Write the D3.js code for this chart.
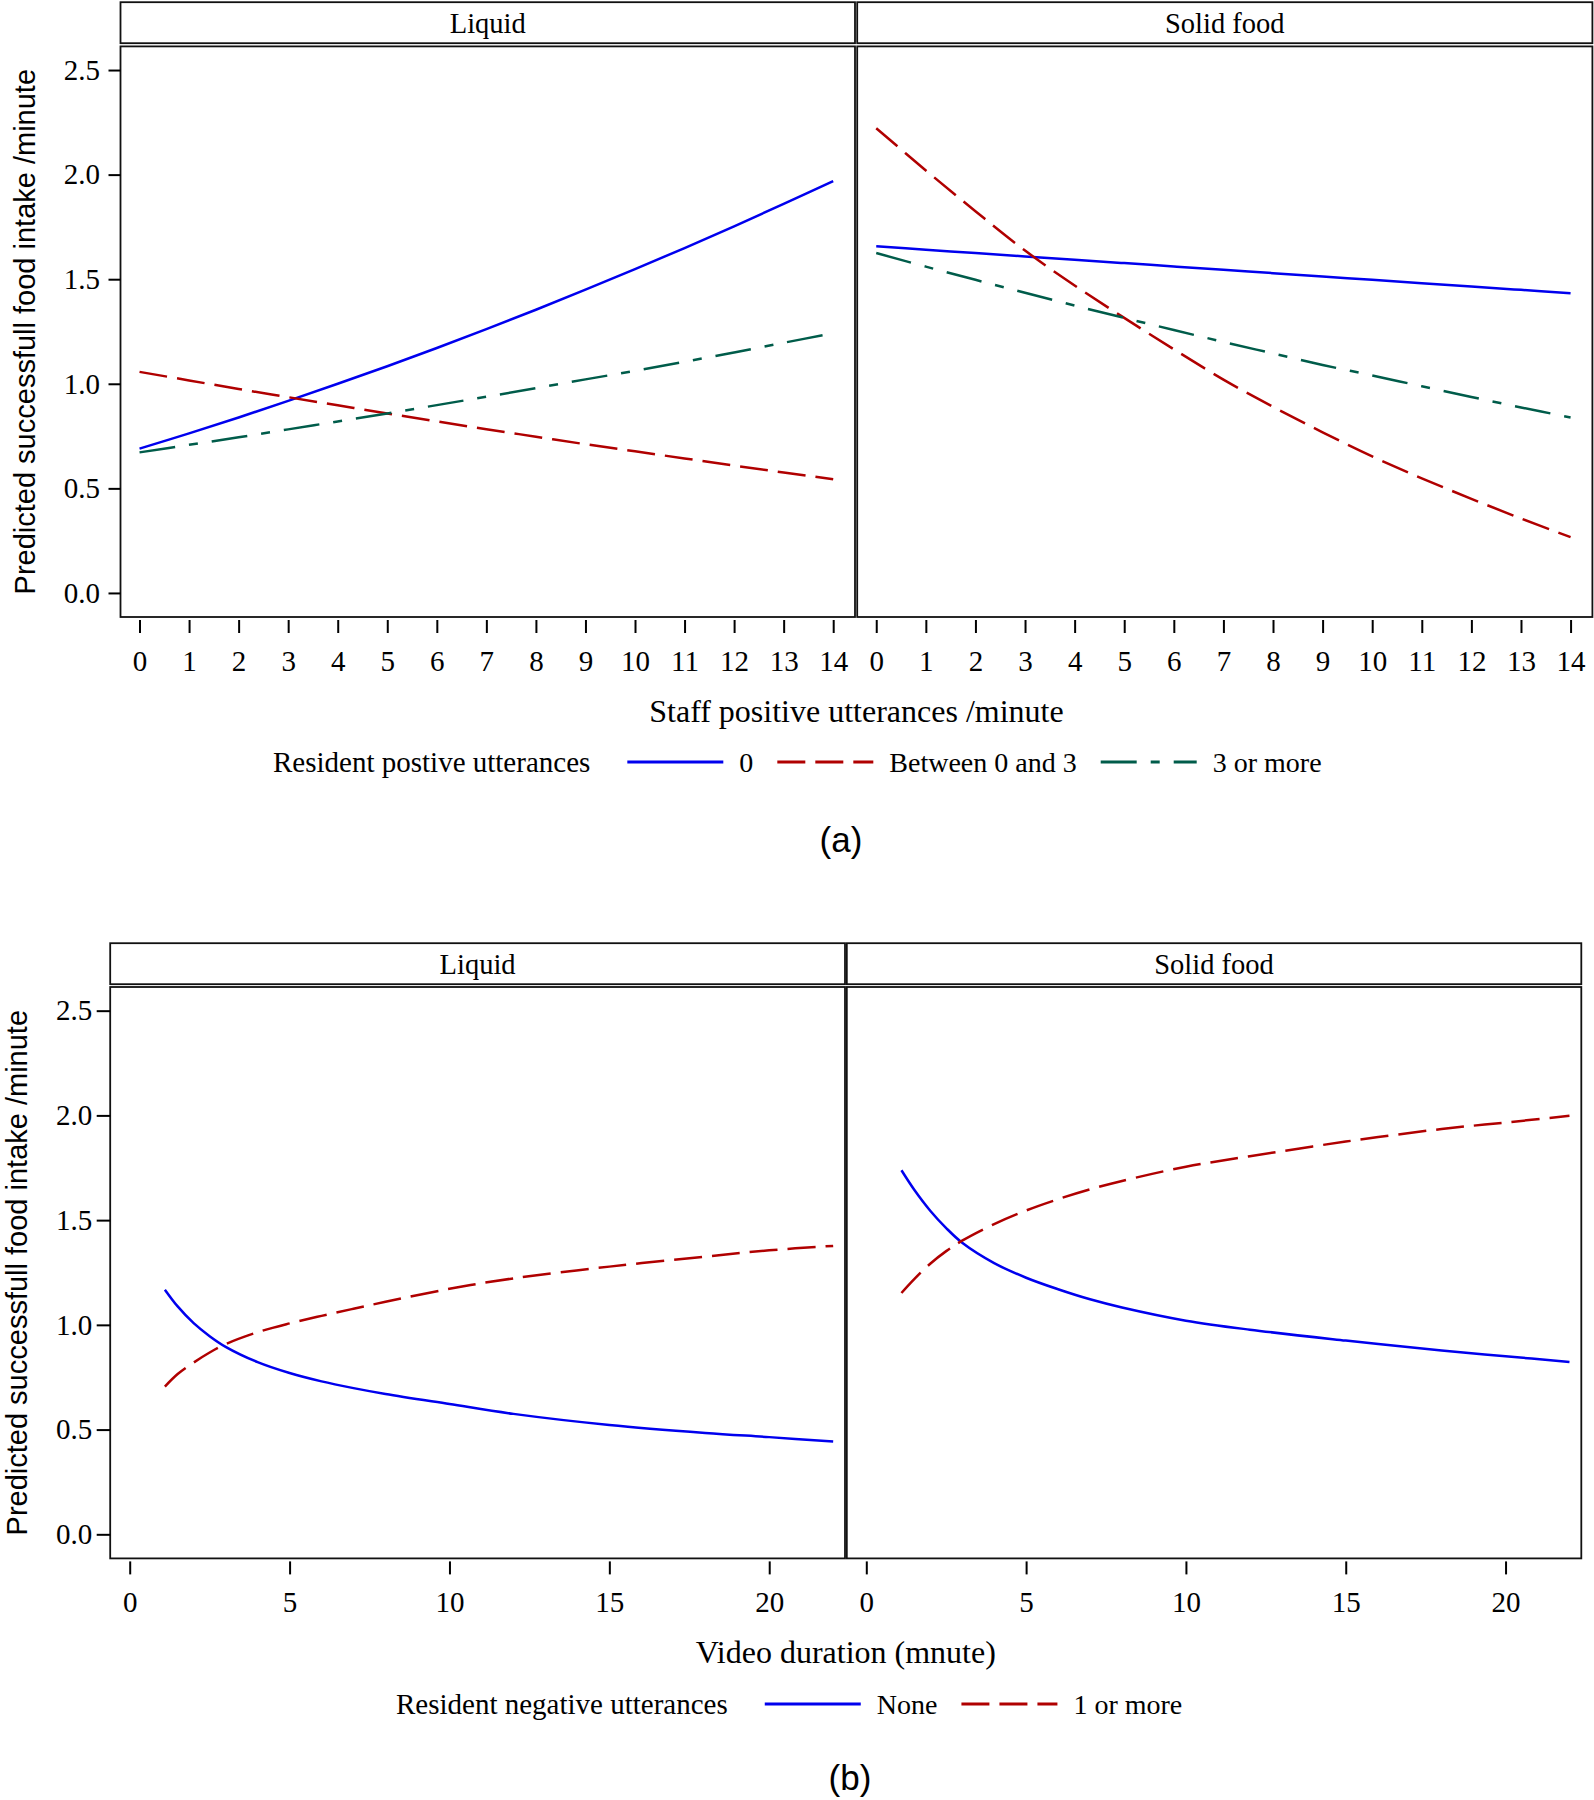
<!DOCTYPE html>
<html>
<head>
<meta charset="utf-8">
<script src="https://cdnjs.cloudflare.com/ajax/libs/d3/7.8.5/d3.min.js"></script>
<style>
  body { margin: 0; background: #fff; }
  svg text { font-family: "Liberation Serif", "Times New Roman", serif; fill: #000; }
  svg text.sans { font-family: "Liberation Sans", Arial, sans-serif; }
</style>
</head>
<body>
<div id="chart"></div>
<script>
// facet names (same for both figures)
var facets = ["Liquid", "Solid food"];

// ---- figure (a): staff positive utterances ----
var staffX = [0, 1, 2, 3, 4, 5, 6, 7, 8, 9, 10, 11, 12, 13, 14];
var posGroups = ["0", "Between 0 and 3", "3 or more"];

var liquidPos0   = [0.690, 0.763, 0.839, 0.918, 1.000, 1.084, 1.171, 1.261, 1.354, 1.450, 1.548, 1.649, 1.753, 1.860, 1.969];
var liquidPosMid = [1.057, 1.016, 0.975, 0.936, 0.897, 0.858, 0.820, 0.783, 0.747, 0.711, 0.677, 0.643, 0.609, 0.576, 0.544];
var liquidPos3   = [0.672, 0.708, 0.744, 0.782, 0.820, 0.858, 0.898, 0.938, 0.979, 1.021, 1.062, 1.105, 1.150, 1.196, 1.242];

var solidPos0    = [1.657, 1.641, 1.625, 1.609, 1.593, 1.577, 1.561, 1.545, 1.529, 1.513, 1.497, 1.481, 1.465, 1.449, 1.433];
var solidPosMid  = [2.222, 2.020, 1.825, 1.637, 1.470, 1.315, 1.165, 1.020, 0.890, 0.768, 0.653, 0.548, 0.450, 0.356, 0.267];
var solidPos3    = [1.625, 1.560, 1.497, 1.435, 1.374, 1.315, 1.257, 1.200, 1.145, 1.090, 1.040, 0.988, 0.937, 0.887, 0.839];

// ---- figure (b): video duration ----
var videoX = [1.1, 1.5, 2, 2.5, 3, 4, 5, 6, 7, 8, 10, 12, 15, 18, 20, 22];
var negGroups = ["None", "1 or more"];

var liquidNegNone = [1.168, 1.088, 1.008, 0.946, 0.895, 0.822, 0.770, 0.730, 0.698, 0.670, 0.622, 0.575, 0.522, 0.484, 0.464, 0.443];
var liquidNeg1    = [0.705, 0.765, 0.820, 0.868, 0.908, 0.965, 1.007, 1.043, 1.077, 1.110, 1.172, 1.222, 1.278, 1.326, 1.356, 1.377];
var solidNegNone  = [1.738, 1.645, 1.545, 1.462, 1.392, 1.295, 1.225, 1.170, 1.122, 1.083, 1.020, 0.977, 0.925, 0.877, 0.850, 0.823];
var solidNeg1     = [1.152, 1.218, 1.292, 1.352, 1.402, 1.481, 1.546, 1.600, 1.647, 1.687, 1.755, 1.805, 1.875, 1.935, 1.966, 1.998];

// tick values
var staffTicks = [0, 1, 2, 3, 4, 5, 6, 7, 8, 9, 10, 11, 12, 13, 14];
var videoTicks = [0, 5, 10, 15, 20];
var yTicks = [0.0, 0.5, 1.0, 1.5, 2.0, 2.5];

// line styles for the groups
var lineStyles = [
  { color: "#0000ee", dash: null },
  { color: "#b00000", dash: "28,10" },
  { color: "#005c4a", dash: "36,14,9,14" }
];

var svgWidth = 1594;
var svgHeight = 1800;
var yDomain = [-0.115, 2.613];

var svg = d3.select("#chart")
  .append("svg")
  .attr("width", svgWidth)
  .attr("height", svgHeight);

var line = d3.line()
  .x(d => d.x)
  .y(d => d.y)
  .curve(d3.curveCatmullRom.alpha(0.5));

// draws one figure: two facets side by side, shared y axis
function drawFigure(fig) {
  var g = svg.append("g");

  var yScale = d3.scaleLinear()
    .domain(yDomain)
    .range([fig.plotBottom, fig.plotTop]);

  fig.panels.forEach(function(p, i) {
    var xScale = d3.scaleLinear()
      .domain(fig.xDomain)
      .range([p[0], p[1]]);

    // strip header
    g.append("rect")
      .attr("x", p[0]).attr("y", fig.stripTop)
      .attr("width", p[1] - p[0]).attr("height", 41)
      .attr("fill", "#fff").attr("stroke", "#111").attr("stroke-width", 1.8);

    g.append("text")
      .attr("x", (p[0] + p[1]) / 2)
      .attr("y", fig.stripTop + 30.8)
      .attr("text-anchor", "middle")
      .style("font-size", "28.5px")
      .text(facets[i]);

    // plot frame
    g.append("rect")
      .attr("x", p[0]).attr("y", fig.plotTop)
      .attr("width", p[1] - p[0]).attr("height", fig.plotBottom - fig.plotTop)
      .attr("fill", "none").attr("stroke", "#111").attr("stroke-width", 1.8);

    // x axis
    var bottomAxis = d3.axisBottom(xScale)
      .tickValues(fig.xTicks)
      .tickSize(13)
      .tickPadding(17)
      .tickFormat(d3.format("d"));

    var xAxis = g.append("g")
      .attr("transform", `translate(0, ${fig.plotBottom + 3})`)
      .call(bottomAxis);
    xAxis.select(".domain").remove();
    xAxis.selectAll("line").attr("stroke-width", 2);
    xAxis.selectAll("text").style("font-size", "29px");

    // curves
    fig.series[i].forEach(function(vals, k) {
      var pts = fig.xs.map((xv, j) => ({ x: xScale(xv), y: yScale(vals[j]) }));
      g.append("path")
        .datum(pts)
        .attr("d", line)
        .attr("fill", "none")
        .attr("stroke", lineStyles[k].color)
        .attr("stroke-width", 2.5)
        .attr("stroke-dasharray", lineStyles[k].dash);
    });
  });

  // y axis on the left facet
  var leftAxis = d3.axisLeft(yScale)
    .tickValues(yTicks)
    .tickSize(fig.yTickSize)
    .tickPadding(fig.yTickPad)
    .tickFormat(d3.format(".1f"));

  var yAxis = g.append("g")
    .attr("transform", `translate(${fig.panels[0][0]}, 0)`)
    .call(leftAxis);
  yAxis.select(".domain").remove();
  yAxis.selectAll("line").attr("stroke-width", 2);
  yAxis.selectAll("text").style("font-size", "29px");

  // y axis title
  g.append("text")
    .attr("class", "sans")
    .attr("transform", `translate(${fig.yTitleX}, ${(fig.plotTop + fig.plotBottom) / 2}) rotate(-90)`)
    .attr("text-anchor", "middle")
    .style("font-size", "29px")
    .text("Predicted successfull food intake /minute");

  // x axis title
  g.append("text")
    .attr("x", (fig.panels[0][0] + fig.panels[1][1]) / 2)
    .attr("y", fig.xTitleY)
    .attr("text-anchor", "middle")
    .style("font-size", "32px")
    .text(fig.xTitle);

  // legend, laid out left to right
  var cx = fig.legendX;
  var ly = fig.legendY;
  var title = g.append("text")
    .attr("x", cx).attr("y", ly + 10)
    .style("font-size", "29px")
    .text(fig.legendTitle);
  cx += title.node().getComputedTextLength() + 37;

  fig.groups.forEach(function(name, k) {
    g.append("line")
      .attr("x1", cx).attr("x2", cx + 96)
      .attr("y1", ly).attr("y2", ly)
      .attr("stroke", lineStyles[k].color)
      .attr("stroke-width", 3)
      .attr("stroke-dasharray", lineStyles[k].dash);
    cx += 96 + 16;
    var lbl = g.append("text")
      .attr("x", cx).attr("y", ly + 10)
      .style("font-size", "28px")
      .text(name);
    cx += lbl.node().getComputedTextLength() + 24;
  });

  // panel label
  g.append("text")
    .attr("class", "sans")
    .attr("x", fig.tagX).attr("y", fig.tagY)
    .attr("text-anchor", "middle")
    .style("font-size", "35px")
    .text(fig.tag);
}

drawFigure({
  stripTop: 2.2, plotTop: 46.4, plotBottom: 617,
  panels: [[120.5, 855], [857.2, 1592.4]],
  xDomain: [-0.384, 14.44],
  xTicks: staffTicks,
  xs: staffX,
  series: [[liquidPos0, liquidPosMid, liquidPos3], [solidPos0, solidPosMid, solidPos3]],
  yTickSize: 12, yTickPad: 8.5, yTitleX: 34.5,
  xTitle: "Staff positive utterances /minute", xTitleY: 722,
  legendTitle: "Resident postive utterances", legendX: 273, legendY: 762,
  groups: posGroups,
  tag: "(a)", tagX: 841, tagY: 852
});

drawFigure({
  stripTop: 943.2, plotTop: 987, plotBottom: 1558.4,
  panels: [[110.2, 845], [846.8, 1581.3]],
  xDomain: [-0.61, 22.37],
  xTicks: videoTicks,
  xs: videoX,
  series: [[liquidNegNone, liquidNeg1], [solidNegNone, solidNeg1]],
  yTickSize: 13.5, yTickPad: 4.5, yTitleX: 27,
  xTitle: "Video duration (mnute)", xTitleY: 1663,
  legendTitle: "Resident negative utterances", legendX: 396, legendY: 1704,
  groups: negGroups,
  tag: "(b)", tagX: 850, tagY: 1790
});
</script>
</body>
</html>
